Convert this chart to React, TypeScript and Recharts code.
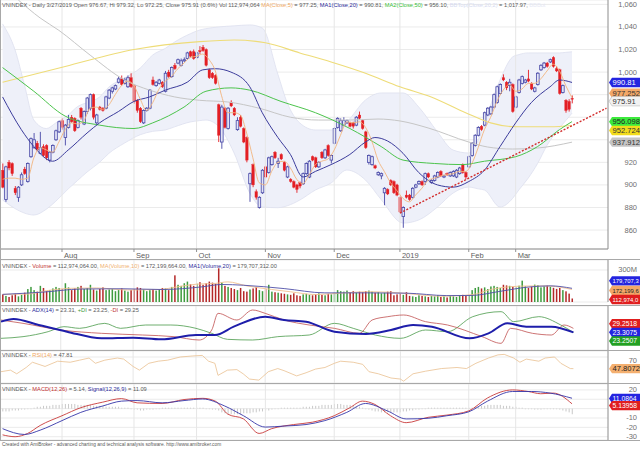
import React from 'react';
import { ComposedChart, Bar, Line, Area, XAxis, YAxis, ReferenceLine, CartesianGrid } from 'recharts';

const FONT = '"Liberation Sans", Arial, sans-serif';

// [open, high, low, close]
const candles = [
  [913,919,897,898],[887,917,885,916],[920,922,913,915],[919,920,908,910],[897,899,891,893],
  [889,899,885,898],[900,911,899,909],[914,916,909,910],[903,920,902,919],[925,942,924,941],
  [933,946,932,940],[937,939,930,931],[928,947,927,933],[934,936,925,926],[935,936,922,924],
  [922,930,920,929],[929,936,928,935],[940,949,939,948],[947,957,946,956],[957,959,949,951],
  [942,954,935,953],[951,962,950,958],[960,962,955,956],[959,960,947,948],[951,958,950,957],
  [968,969,958,960],[954,966,953,965],[965,978,963,977],[968,981,966,980],[980,981,958,960],
  [955,963,953,962],[969,970,966,967],[968,969,965,966],[968,979,967,978],[977,985,976,984],
  [983,987,981,986],[985,989,984,988],[991,996,990,994],[994,997,988,989],[990,995,989,993],
  [987,997,986,995],[995,999,986,987],[988,989,972,974],[975,976,964,966],[968,969,955,956],
  [955,967,954,966],[966,969,965,968],[968,985,967,984],[993,996,988,989],[988,992,987,991],
  [990,994,989,993],[991,992,986,987],[983,1001,982,999],[1000,1002,995,996],[996,1005,995,1004],
  [1006,1008,1002,1003],[1008,1012,1007,1011],[1006,1012,1005,1010],[1010,1013,1009,1011],[1012,1018,1011,1017],
  [1018,1019,1013,1014],[1018,1020,1011,1012],[1013,1018,1012,1017],[1019,1023,1016,1018],[1022,1024,1018,1019],
  [1020,1021,1005,1006],[1002,1003,994,995],[999,1000,994,995],[997,998,989,990],[971,972,938,944],
  [938,971,932,969],[968,969,950,951],[950,969,949,968],[973,975,969,970],[968,969,961,962],
  [949,960,948,957],[960,962,951,952],[950,951,937,938],[942,943,920,922],[901,911,885,910],
  [918,919,898,900],[894,896,887,889],[880,890,879,889],[893,914,892,913],[916,917,906,907],
  [911,925,910,924],[918,926,917,925],[929,930,923,924],[919,924,915,921],[927,928,922,923],
  [920,921,912,913],[907,917,906,916],[905,906,902,903],[903,904,897,898],[900,901,893,896],
  [902,903,897,899],[901,911,900,910],[910,920,909,919],[907,922,906,921],[925,926,921,922],
  [924,925,915,916],[916,921,915,920],[929,930,923,924],[924,932,923,931],[935,936,925,926],
  [922,927,919,926],[937,951,936,950],[951,960,950,959],[948,959,947,957],[953,960,952,957],
  [955,958,954,957],[955,956,951,952],[955,956,950,952],[953,961,952,960],[962,965,958,959],
  [957,958,949,950],[947,948,932,933],[920,927,918,926],[918,926,917,925],[917,918,914,915],
  [909,912,908,911],[908,911,905,910],[893,898,882,897],[896,897,891,892],[904,905,899,900],
  [903,904,892,893],[900,901,890,891],[889,890,875,876],[872,881,862,880],[891,895,888,889],
  [891,892,886,887],[889,898,888,897],[898,901,897,900],[901,904,900,903],[903,904,899,900],
  [903,911,900,910],[910,911,906,907],[902,905,901,904],[904,909,903,908],[907,912,906,911],
  [912,913,907,908],[907,909,906,908],[910,911,908,909],[908,912,907,911],[908,913,907,912],
  [907,914,906,913],[910,916,909,915],[918,919,910,911],[911,912,905,907],[916,926,915,925],
  [926,938,925,937],[935,945,934,944],[944,952,943,951],[952,953,948,949],[953,965,952,964],
  [962,969,961,968],[963,970,962,969],[969,981,968,980],[973,988,972,987],[981,990,980,989],
  [995,998,992,993],[991,992,984,986],[988,994,983,991],[989,990,964,965],[969,979,968,978],
  [982,994,981,993],[990,997,989,996],[991,994,990,993],[994,1002,991,992],[990,991,984,985],
  [983,987,982,986],[989,1000,988,999],[1002,1007,1001,1006],[1004,1009,1003,1008],[1008,1009,1004,1005],
  [1009,1012,1008,1011],[1013,1014,1004,1005],[1003,1005,1000,1001],[1002,1003,980,981],[982,989,981,988],
  [975,976,964,966],[974,976,965,967],[976.67,979.32,972.25,975.91],
];

// volume in millions
const volumes = [
  140,130,123,134,144,127,137,151,
  175,189,168,158,196,182,161,168,179,
  189,182,175,213,186,168,179,189,196,175,182,203,172,165,175,186,168,
  172,175,161,168,179,165,158,168,175,186,182,172,161,168,175,165,172,182,179,168,189,
  265,
  203,196,213,224,206,196,210,220,203,213,224,217,210,
  311,
  217,196,189,182,175,168,182,161,158,172,179,189,168,161,
  175,203,158,154,151,147,144,
  140,137,147,134,130,140,144,137,134,140,147,137,134,144,140,151,
  168,161,158,165,154,161,151,158,154,161,165,158,151,154,147,151,158,161,
  134,140,144,137,154,130,127,123,134,130,127,123,130,127,134,123,127,120,130,127,123,134,137,130,134,
  168,182,189,179,186,175,192,196,189,182,203,199,196,
  190,186,197,230,193,183,190,204,200,186,193,197,190,183,
  176,182,168,160,145,113,
];

const macdHist = [
  -3,-3,-3,-2,-2,-2,-1,-1,0,0,
  1,2,2,3,3,3,4,4,4,5,5,5,5,5,4,4,4,4,4,3,3,3,3,2,2,2,2,2,1,1,1,
  0,-1,-1,-2,-2,-1,-1,-1,
  0,0,1,1,1,1,1,1,1,1,1,1,1,1,1,1,0,0,
  -1,-1,-2,-4,-5,-6,-6,-6,-6,-6,-5,-5,-5,-4,
  -4,-3,-3,-2,-2,-1,0,0,1,1,1,1,1,1,1,2,2,2,3,
  3,3,4,4,4,4,5,5,5,4,4,4,3,
  2,2,1,0,-1,-2,-3,-3,-4,-4,-4,-4,-4,-4,-4,-3,-3,-2,
  -2,-1,-1,0,0,1,1,1,1,1,1,1,1,1,1,1,1,1,1,1,
  2,2,3,3,4,4,4,4,4,3,3,3,2,2,1,1,
  0,0,0,-1,-1,-1,0,0,0,0,0,-1,-2,-3,-4,-6,
];

// sparse [day, value] readings
const ma5Pts = [[0,905],[2,906],[4,906],[6,905],[8,906],[10,924],[12,933],[14,931],[16,929],[18,938],[20,949],[22,955],[24,954],[26,957],[28,968],[30,969],[32,967],[34,971],[36,980],[38,988],[40,992],[42,988],[44,976],[46,966],[48,973],[50,985],[52,992],[54,996],[56,1003],[58,1008],[60,1013],[62,1014],[64,1016],[66,1011],[68,1001],[70,979],[72,964],[74,964],[76,962],[78,946],[80,924],[82,902],[84,900],[86,912],[88,920],[90,921],[92,915],[94,905],[96,901],[98,909],[100,918],[102,921],[104,923],[106,931],[108,944],[110,956],[112,955],[114,956],[116,951],[118,939],[120,922],[122,912],[124,902],[126,895],[128,888],[130,885],[132,891],[134,897],[136,904],[138,906],[140,908],[142,909],[144,910],[146,912],[148,912],[150,919],[152,933],[154,949],[156,960],[158,974],[160,984],[162,989],[164,983],[166,985],[168,990],[170,990],[172,994],[174,1001],[176,1007],[178,1001],[180,988],[182,977.25]];
const ma20Pts = [[0,978],[6,949],[10,934],[16,921],[21,931],[27,946],[31,955],[37,965],[42,974],[47,978],[52,984],[59,991],[64,1002],[68,1003],[73,1000],[79,987],[83,964],[88,942],[92,927],[96,907],[100,912],[105,918],[111,927],[116,938],[119,942],[123,939],[128,928],[133,911],[139,900],[144,898],[149,903],[154,913],[159,934],[164,955],[169,973],[175,987],[178,993],[182,990.81]];
const ma50Pts = [[0,1004],[10,983],[20,961],[31,953],[42,950],[48,955],[58,969],[65,983],[73,986],[79,984],[89,974],[100,964],[111,950],[121,934],[128,922],[138,919],[147,918],[154,921],[164,925],[171,934],[178,949],[182,956.1]];
const maYellowPts = [[0,991],[20,1005],[42,1020],[63,1027],[74,1028.5],[84,1026],[95,1017],[105,1009],[116,999],[127,987],[137,978],[148,964],[156,955],[164,951.5],[175,951.5],[182,952.72]];
const maGreyPts = [[5,1064],[12,1048],[18,1037],[28,1015],[39,993],[47,984],[55,978],[63,975],[72,973.5],[82,968],[92,960],[101,957.5],[111,957.5],[120,958.4],[127,956.7],[136,950.5],[149,938],[155,933.6],[163,931.8],[171,932.7],[182,937.91]];
// [day, lower, upper]
const bollinger = [[0,886.6,1042.7],[4,879,1019.6],[7,875,988.6],[10,873.3,957.5],[14,878.5,950],[17,885.5,954.9],[21,896.5,962],[24,904,969.5],[27,911.4,973],[31,920,977.9],[34,928,986.8],[39,937.1,994.8],[44,944.5,1003.6],[48,947.5,1015.2],[52,948.7,1021],[55,951.5,1026.7],[60,955.8,1034],[63,957,1037.3],[65,957.5,1038.5],[69,952,1040],[74,928.3,1041],[79,892.8,1041.8],[83,880.4,1039.1],[88,879.8,998],[91,881.5,972.6],[95,886.6,954.9],[100,895.5,948.7],[105,901.7,948.7],[110,913.2,956],[116,904.3,975.3],[121,887,981.5],[128,866.2,981.5],[133,868.9,969.1],[139,880.4,947],[144,892.8,930.9],[149,898.1,928.3],[152,896.5,939.8],[154,895.5,955],[159,880.4,993],[163,888,1013.4],[165,895.5,1015.5],[168,906,1017],[171,919,1017],[174,935,1017],[178,950.4,1017],[180,957,1017.5],[182,963.6,1018]];
const trendPts = [[127,875],[193,968]];

const volMa10Pts = [[0,140],[8,142],[14,164],[22,180],[30,182],[40,169],[50,172],[56,190],[62,207],[68,212],[72,222],[78,196],[86,172],[92,157],[100,139],[108,148],[116,157],[124,154],[130,144],[140,128],[150,138],[156,172],[162,190],[168,195],[174,195],[182,172.2]];
const volMa20Pts = [[0,140],[13,155],[25,175],[38,177],[51,172],[64,190],[70,205],[77,200],[90,178],[103,150],[116,150],[129,148],[142,132],[150,133],[159,160],[168,188],[175,196],[182,179.7]];

const adxPts = [[0,39.3],[4,43.3],[12,34.3],[21,24.3],[32,14.3],[42,15.3],[51,12.8],[62,19.3],[68,19.3],[74,31.8],[84,46.8],[90,41.8],[97,39.3],[106,24.3],[116,20.8],[124,26.8],[131,34.3],[137,31.8],[149,14.3],[155,21.8],[161,36.8],[167,31.8],[175,31.8],[182,23.31]];
const pdiPts = [[0,14.3],[7,16.8],[15,24.3],[20,31.8],[25,29.3],[33,36.8],[38,29.3],[46,34.3],[54,34.3],[62,29.3],[67,21.8],[72,12.8],[80,11.8],[88,16.8],[98,19.3],[106,36.8],[112,29.3],[119,19.3],[127,14.3],[135,26.8],[142,24.3],[150,46.8],[159,54.3],[163,39.3],[171,46.8],[178,34.3],[182,23.25]];
const mdiPts = [[0,41.8],[7,36.8],[19,26.8],[32,21.8],[45,19.3],[55,16.8],[63,11.8],[67,26.8],[69,51.8],[75,41.8],[80,56.8],[84,51.8],[90,41.8],[98,34.3],[106,29.3],[114,21.8],[118,41.8],[123,46.8],[128,49.3],[135,39.3],[142,34.3],[153,16.8],[159,6.8],[162,29.3],[169,21.8],[175,19.3],[179,34.3],[182,29.25]];

const rsiPts = [[0,42],[3,45],[5,38],[8,50],[10,60],[14,52],[18,62],[22,60],[25,64],[28,68],[30,58],[33,64],[37,68],[39,66],[42,52],[44,45],[47,58],[50,62],[53,64],[57,70],[61,72],[64,73],[66,62],[68,58],[69,35],[72,45],[75,46],[77,38],[79,28],[82,26],[85,42],[88,48],[90,44],[94,34],[97,40],[100,47],[103,50],[106,58],[108,62],[112,60],[115,56],[117,42],[120,38],[124,30],[127,28],[128,24],[131,38],[135,43],[140,48],[145,50],[148,48],[151,58],[155,68],[158,74],[160,75],[163,68],[165,60],[167,66],[171,62],[173,68],[176,70],[178,58],[181,48],[182,47.81]];

const macdPts = [[0,-28],[4,-30],[8,-26.5],[12,-18],[19,-7.6],[25,1],[32,6.9],[38,10.7],[43,6.2],[51,5.5],[58,9.7],[64,11],[68,8],[72,-5.9],[77,-11],[82,-26.5],[86,-21.4],[93,-17],[99,-14.5],[106,-7.6],[111,1],[115,8],[119,4.5],[124,-7.6],[129,-15],[136,-9.3],[142,-6.9],[149,-2.4],[155,11.4],[163,20],[168,18.3],[172,15.9],[176,16.6],[182,5.14]];
const signalPts = [[0,-21.4],[7,-27.6],[12,-23],[19,-12.8],[25,-4],[32,2.8],[38,8],[43,8.6],[51,6.2],[58,8.6],[64,10.3],[71,2.8],[77,-7.6],[84,-19.7],[90,-18.6],[97,-17],[103,-12.8],[110,-4],[116,5.5],[123,-2.4],[129,-11],[136,-10.3],[142,-7.6],[149,-3.4],[155,8],[163,18.3],[169,18.3],[175,16.6],[182,11.09]];

const monthIdx = [19, 42, 62, 84, 106, 127, 149, 164];
const monthLabels = ['Aug', 'Sep', 'Oct', 'Nov', 'Dec', '2019', 'Feb', 'Mar'];
const priceTicks = [860, 880, 900, 920, 940, 960, 980, 1000, 1020, 1040, 1060];
const hiddenPriceLabels = [940, 960, 980];
const macdTicks = [-30, -20, -10, 0, 10, 20];
const hiddenMacdLabels = [0, 10];

const TOTAL = 194;
const rows: any[] = [];
for (let i = 0; i < TOTAL; i++) rows.push({ i });
candles.forEach(([o, h, l, c], i) => {
  Object.assign(rows[i], { o, h, l, c, range: [l, h], vol: volumes[i], hist: macdHist[i], up: c >= o });
});
const put = (key: string, pts: number[][]) => pts.forEach(([i, v]) => { rows[i][key] = v; });
put('ma5', ma5Pts); put('ma20', ma20Pts); put('ma50', ma50Pts); put('maY', maYellowPts); put('maG', maGreyPts);
put('trend', trendPts); put('vma10', volMa10Pts); put('vma20', volMa20Pts);
put('adx', adxPts); put('pdi', pdiPts); put('mdi', mdiPts); put('rsi', rsiPts);
put('macd', macdPts); put('signal', signalPts);
bollinger.forEach(([i, lo, hi]) => { rows[i].bb = [lo, hi]; });

const Candle = (props: any) => {
  const { x, y, width, height, payload } = props;
  if (!payload || payload.o == null || !isFinite(y)) return null;
  const { o, h, l, c } = payload;
  const cx = x + width / 2;
  const span = h - l || 1;
  const py = (v: number) => y + ((h - v) / span) * height;
  const up = c >= o;
  const top = py(Math.max(o, c));
  const bh = Math.max(py(Math.min(o, c)) - top, 0.8);
  const col = up ? '#4646A6' : '#E31E24';
  return (
    <g>
      <line x1={cx} x2={cx} y1={py(h)} y2={py(l)} stroke={col} strokeWidth={0.9} />
      <rect x={cx - 1.3} y={top} width={2.6} height={bh} fill={up ? '#E2E4F6' : col} stroke={col} strokeWidth={up ? 0.8 : 0.3} />
    </g>
  );
};

const VolBar = (props: any) => {
  const { x, y, width, height, payload } = props;
  if (!payload || payload.vol == null || !isFinite(y)) return null;
  const cx = x + width / 2;
  return <rect x={cx - 0.75} y={y} width={1.5} height={Math.max(height, 0.5)} fill={payload.up ? '#3E9B3E' : '#B42828'} />;
};

const HistBar = (props: any) => {
  const { x, y, width, height, payload } = props;
  if (!payload || payload.hist == null || !isFinite(y)) return null;
  const cx = x + width / 2;
  const top = Math.min(y, y + height);
  return <rect x={cx - 0.5} y={top} width={1} height={Math.max(Math.abs(height), 0.6)} fill="#C9C9C9" />;
};

const fmt = (v: number) => v.toLocaleString('en-US');

const RightTick = (props: any) => {
  const { y, payload, suffix, hidden } = props;
  if (hidden && hidden.includes(payload.value)) return null;
  return (
    <text x={637} y={y + 2.5} textAnchor="end" fontSize={7.5} fontFamily={FONT} fill="#707070">
      {fmt(payload.value)}{suffix || ''}
    </text>
  );
};

const BoxLabel = (props: any) => {
  const { viewBox, text, fill, color, dy = 0, border, size = 7.6 } = props;
  if (!viewBox) return null;
  const x0 = viewBox.x + viewBox.width;
  const y = viewBox.y + dy;
  const d = `M${x0 + 1},${y} L${x0 + 4},${y - 4.7} L${x0 + 34},${y - 4.7} L${x0 + 34},${y + 4.7} L${x0 + 4},${y + 4.7} Z`;
  return (
    <g>
      <path d={d} fill={fill} stroke={border || 'none'} strokeWidth={0.6} />
      <text x={x0 + 4.5} y={y + size * 0.35} fontSize={size} fontFamily={FONT} fill={color}>{text}</text>
    </g>
  );
};

const MonthLabel = (props: any) => {
  const { viewBox, text } = props;
  if (!viewBox) return null;
  const bottom = viewBox.y + viewBox.height;
  return (
    <g>
      <line x1={viewBox.x} x2={viewBox.x} y1={bottom} y2={bottom + 3} stroke="#777" strokeWidth={0.8} />
      <text x={viewBox.x + 2} y={bottom + 8.5} fontSize={7.5} fontFamily={FONT} fill="#606060">{text}</text>
    </g>
  );
};

const lineProps = { dot: false, isAnimationActive: false, connectNulls: true, type: 'monotone' as const, activeDot: false };
const xPad = { left: 1, right: 0 };

const monthGrid = (withLabels: boolean) =>
  monthIdx.map((m, k) => (
    <ReferenceLine key={'m' + k} x={m} stroke="#E6E6E6" strokeWidth={1}
      label={withLabels ? <MonthLabel text={monthLabels[k]} /> : undefined} />
  ));

const hr = (top: number) => (
  <div style={{ position: 'absolute', left: 0, top, width: 640, height: 1, background: '#A8A8A8' }} />
);

const TITLE = 5.7;

export default function App() {
  return (
    <div style={{ position: 'absolute', left: 0, top: 0, width: 640, height: 449, background: '#fff', overflow: 'hidden', fontFamily: FONT }}>
      {/* Price panel */}
      <div style={{ position: 'absolute', left: 0, top: 0 }}>
        <ComposedChart width={640} height={259} data={rows} margin={{ top: 0, right: 0, bottom: 0, left: 0 }}>
          <CartesianGrid vertical={false} stroke="#EBEBEB" />
          <XAxis dataKey="i" type="category" tick={false} tickLine={false} height={10} padding={xPad} axisLine={{ stroke: '#8C8C8C' }} />
          <YAxis orientation="right" type="number" width={32} domain={[843.2, 1063.9]} ticks={priceTicks} allowDataOverflow
            tick={<RightTick hidden={hiddenPriceLabels} />} tickLine={false} axisLine={{ stroke: '#8C8C8C' }} interval={0} />
          {monthGrid(true)}
          <Area dataKey="bb" {...lineProps} fill="#EEF0F9" fillOpacity={1} stroke="#DDE0EF" strokeWidth={0.8} />
          <Line dataKey="maG" {...lineProps} stroke="#C6C6C6" strokeWidth={1} />
          <Line dataKey="maY" {...lineProps} stroke="#EEDC78" strokeWidth={1.1} />
          <Line dataKey="ma50" {...lineProps} stroke="#4CC44C" strokeWidth={1} />
          <Line dataKey="ma20" {...lineProps} stroke="#3C3C9C" strokeWidth={1} />
          <Line dataKey="ma5" {...lineProps} stroke="#F2B47E" strokeWidth={0.9} />
          <Bar dataKey="range" shape={<Candle />} isAnimationActive={false} />
          <Line dataKey="trend" {...lineProps} type="linear" stroke="#D22C2C" strokeWidth={1.4} strokeDasharray="2 1.6" />
          <ReferenceLine y={990.81} stroke="none" label={<BoxLabel text="990.81" fill="#2424E0" color="#fff" />} />
          <ReferenceLine y={977.252} stroke="none" label={<BoxLabel text="977.252" fill="#F4A868" color="#333" dy={-4.5} />} />
          <ReferenceLine y={975.91} stroke="none" label={<BoxLabel text="975.91" fill="#F2F2F2" color="#333" dy={1.9} border="#B8B8B8" />} />
          <ReferenceLine y={956.098} stroke="none" label={<BoxLabel text="956.098" fill="#3CEB3C" color="#222" dy={0} />} />
          <ReferenceLine y={952.724} stroke="none" label={<BoxLabel text="952.724" fill="#F2DC1C" color="#333" dy={5} />} />
          <ReferenceLine y={937.912} stroke="none" label={<BoxLabel text="937.912" fill="#C4C4C4" color="#333" />} />
        </ComposedChart>
      </div>
      {hr(259)}

      {/* Volume panel */}
      <div style={{ position: 'absolute', left: 0, top: 260 }}>
        <ComposedChart width={640} height={45} data={rows} margin={{ top: 0, right: 0, bottom: 3, left: 0 }}>
          <CartesianGrid vertical={false} stroke="#EBEBEB" />
          <XAxis dataKey="i" type="category" hide padding={xPad} />
          <YAxis orientation="right" type="number" width={32} domain={[90, 365.6]} ticks={[300]} allowDataOverflow
            tick={<RightTick suffix="M" />} tickLine={false} axisLine={{ stroke: '#8C8C8C' }} />
          {monthGrid(false)}
          <Bar dataKey="vol" shape={<VolBar />} isAnimationActive={false} />
          <Line dataKey="vma10" {...lineProps} stroke="#F0C090" strokeWidth={0.9} />
          <Line dataKey="vma20" {...lineProps} stroke="#5050A8" strokeWidth={0.9} />
          <ReferenceLine y={179.707} stroke="none" label={<BoxLabel text="179,707,3" size={5.9} fill="#2424E0" color="#fff" dy={-7.5} />} />
          <ReferenceLine y={172.199} stroke="none" label={<BoxLabel text="172,199,6" size={5.9} fill="#F4A868" color="#222" dy={1} />} />
          <ReferenceLine y={112.974} stroke="none" label={<BoxLabel text="112,974,0" size={5.9} fill="#E01E1E" color="#fff" dy={1} />} />
        </ComposedChart>
      </div>
      {hr(305)}

      {/* ADX panel */}
      <div style={{ position: 'absolute', left: 0, top: 306 }}>
        <ComposedChart width={640} height={44} data={rows} margin={{ top: 0, right: 0, bottom: 0, left: 0 }}>
          <CartesianGrid vertical={false} stroke="#EBEBEB" />
          <XAxis dataKey="i" type="category" hide padding={xPad} />
          <YAxis orientation="right" type="number" width={32} domain={[-3.2, 62.8]} ticks={[50]} allowDataOverflow
            tick={<RightTick />} tickLine={false} axisLine={{ stroke: '#8C8C8C' }} />
          {monthGrid(false)}
          <Line dataKey="pdi" {...lineProps} stroke="#4A9A4A" strokeWidth={0.8} />
          <Line dataKey="mdi" {...lineProps} stroke="#C05050" strokeWidth={0.8} />
          <Line dataKey="adx" {...lineProps} stroke="#1E1EAA" strokeWidth={2} />
          <ReferenceLine y={29.2518} stroke="none" label={<BoxLabel text="29.2518" size={6.8} fill="#E01E1E" color="#fff" dy={-4.6} />} />
          <ReferenceLine y={23.3075} stroke="none" label={<BoxLabel text="23.3075" size={6.8} fill="#2424E0" color="#fff" dy={0} />} />
          <ReferenceLine y={23.2507} stroke="none" label={<BoxLabel text="23.2507" size={6.8} fill="#22A022" color="#fff" dy={8.6} />} />
        </ComposedChart>
      </div>
      {hr(350)}

      {/* RSI panel */}
      <div style={{ position: 'absolute', left: 0, top: 351 }}>
        <ComposedChart width={640} height={32} data={rows} margin={{ top: 0, right: 0, bottom: 0, left: 0 }}>
          <CartesianGrid vertical={false} stroke="#EBEBEB" />
          <XAxis dataKey="i" type="category" hide padding={xPad} />
          <YAxis orientation="right" type="number" width={32} domain={[20.5, 81.4]} ticks={[30, 70]} allowDataOverflow
            tick={<RightTick />} tickLine={false} axisLine={{ stroke: '#8C8C8C' }} />
          {monthGrid(false)}
          <Line dataKey="rsi" {...lineProps} type="linear" stroke="#EAC090" strokeWidth={0.8} />
          <ReferenceLine y={47.8072} stroke="none" label={<BoxLabel text="47.8072" fill="#F4B070" color="#222" />} />
        </ComposedChart>
      </div>
      {hr(383)}

      {/* MACD panel */}
      <div style={{ position: 'absolute', left: 0, top: 384 }}>
        <ComposedChart width={640} height={56} data={rows} margin={{ top: 0, right: 0, bottom: 0, left: 0 }}>
          <CartesianGrid vertical={false} stroke="#EBEBEB" />
          <XAxis dataKey="i" type="category" hide padding={xPad} />
          <YAxis orientation="right" type="number" width={32} domain={[-33.5, 26.3]} ticks={macdTicks} allowDataOverflow
            tick={<RightTick hidden={hiddenMacdLabels} />} tickLine={false} axisLine={{ stroke: '#8C8C8C' }} interval={0} />
          {monthGrid(false)}
          <Bar dataKey="hist" shape={<HistBar />} isAnimationActive={false} />
          <Line dataKey="macd" {...lineProps} stroke="#C83A3A" strokeWidth={0.9} />
          <Line dataKey="signal" {...lineProps} stroke="#3434A8" strokeWidth={0.9} />
          <ReferenceLine y={11.0864} stroke="none" label={<BoxLabel text="11.0864" size={6.8} fill="#2424E0" color="#fff" dy={0.2} />} />
          <ReferenceLine y={5.13958} stroke="none" label={<BoxLabel text="5.13958" size={6.8} fill="#E01E1E" color="#fff" dy={1.8} />} />
        </ComposedChart>
      </div>
      {hr(440)}
      <div style={{ position: 'absolute', left: 0, top: 0, width: 1, height: 440, background: '#A8A8A8' }} />

      {/* Titles */}
      <svg width={640} height={449} style={{ position: 'absolute', left: 0, top: 0, pointerEvents: 'none' }} fontFamily={FONT}>
        <text x={2} y={7} fontSize={TITLE} fill="#5A5A5A">
          <tspan>VNINDEX - Daily 3/27/2019 Open 976.67, Hi 979.32, Lo 972.25, Close 975.91 (0.6%) Vol 112,974,064 </tspan>
          <tspan fill="#F0A860">MA(Close,5)</tspan><tspan> = 977.25, </tspan>
          <tspan fill="#2A2A9A">MA1(Close,20)</tspan><tspan> = 990.81, </tspan>
          <tspan fill="#38C038">MA2(Close,50)</tspan><tspan> = 956.10, </tspan>
          <tspan fill="#D6DAF0">BBTop(Close,20,2)</tspan><tspan> = 1,017.97, </tspan>
          <tspan fill="#E6E8F4">BBBot</tspan>
        </text>
        <text x={2} y={268} fontSize={TITLE} fill="#5A5A5A">
          <tspan>VNINDEX - </tspan><tspan fill="#C03030">Volume</tspan><tspan> = 112,974,064.00, </tspan>
          <tspan fill="#F0B070">MA(Volume,10)</tspan><tspan> = 172,199,664.00, </tspan>
          <tspan fill="#2A2A9A">MA1(Volume,20)</tspan><tspan> = 179,707,312.00</tspan>
        </text>
        <text x={2} y={312} fontSize={TITLE} fill="#5A5A5A">
          <tspan>VNINDEX - </tspan><tspan fill="#2A2A9A">ADX(14)</tspan><tspan> = 23.31, </tspan>
          <tspan fill="#3A9A3A">+DI</tspan><tspan> = 23.25, </tspan>
          <tspan fill="#C03030">-DI</tspan><tspan> = 29.25</tspan>
        </text>
        <text x={2} y={357} fontSize={TITLE} fill="#5A5A5A">
          <tspan>VNINDEX - </tspan><tspan fill="#F0A860">RSI(14)</tspan><tspan> = 47.81</tspan>
        </text>
        <text x={2} y={391} fontSize={TITLE} fill="#5A5A5A">
          <tspan>VNINDEX - </tspan><tspan fill="#C03030">MACD(12,26)</tspan><tspan> = 5.14, </tspan>
          <tspan fill="#2A2A9A">Signal(12,26,9)</tspan><tspan> = 11.09</tspan>
        </text>
        <text x={2} y={446} fontSize={4.8} fill="#5A5A5A">
          Created with AmiBroker - advanced charting and technical analysis software. http://www.amibroker.com
        </text>
      </svg>
    </div>
  );
}
